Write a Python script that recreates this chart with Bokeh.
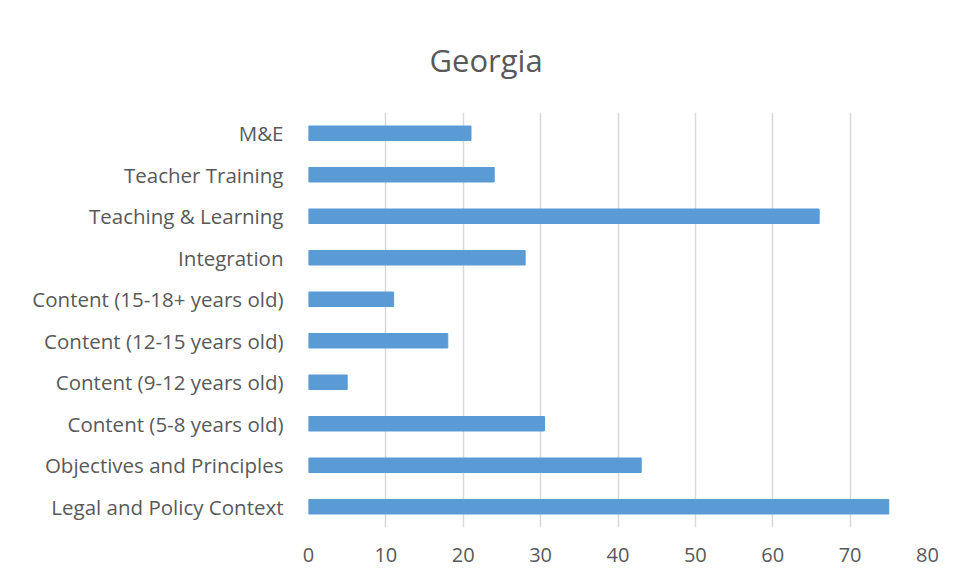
from bokeh.plotting import figure
from bokeh.models import FactorRange, Range1d, Title, FixedTicker
from bokeh.embed import file_html
from bokeh.resources import INLINE

categories = ["Legal and Policy Context", "Objectives and Principles", "Content (5-8 years old)",
              "Content (9-12 years old)", "Content (12-15 years old)", "Content (15-18+ years old)",
              "Integration", "Teaching & Learning", "Teacher Training", "M&E"]
values = [75, 43, 30.5, 5, 18, 11, 28, 66, 24, 21]
x_ticks = [0, 10, 20, 30, 40, 50, 60, 70, 80]

FONT = "Open Sans"
GRAY = "#595959"

p = figure(width=946, height=575, output_backend="svg", toolbar_location=None,
           y_range=FactorRange(*categories, range_padding=0), x_range=Range1d(0, 80),
           min_border_left=308, min_border_right=19, min_border_top=112, min_border_bottom=48)
p.hbar(y=categories, right=values, left=0, height=0.35, color="#5b9bd5")

p.outline_line_color = None
p.ygrid.grid_line_color = None
p.xgrid.grid_line_color = "#d9d9d9"
p.xgrid.grid_line_width = 1.5
p.xaxis.ticker = FixedTicker(ticks=x_ticks)
p.xaxis.axis_line_color = None
p.xaxis.major_tick_line_color = None
p.xaxis.minor_tick_line_color = None
p.xaxis.major_label_standoff = 14
p.xaxis.major_label_text_font = FONT
p.xaxis.major_label_text_font_size = "20px"
p.xaxis.major_label_text_color = GRAY
p.yaxis.axis_line_color = None
p.yaxis.major_tick_line_color = None
p.yaxis.major_label_standoff = 19
p.yaxis.major_label_text_font = FONT
p.yaxis.major_label_text_font_size = "20.5px"
p.yaxis.major_label_text_color = GRAY

title = Title(text="Georgia", align="left", offset=121, standoff=63,
              text_font=FONT, text_font_size="31px", text_color=GRAY,
              text_font_style="normal")
p.add_layout(title, "above")

open("out.html", "w").write(file_html(p, INLINE))
